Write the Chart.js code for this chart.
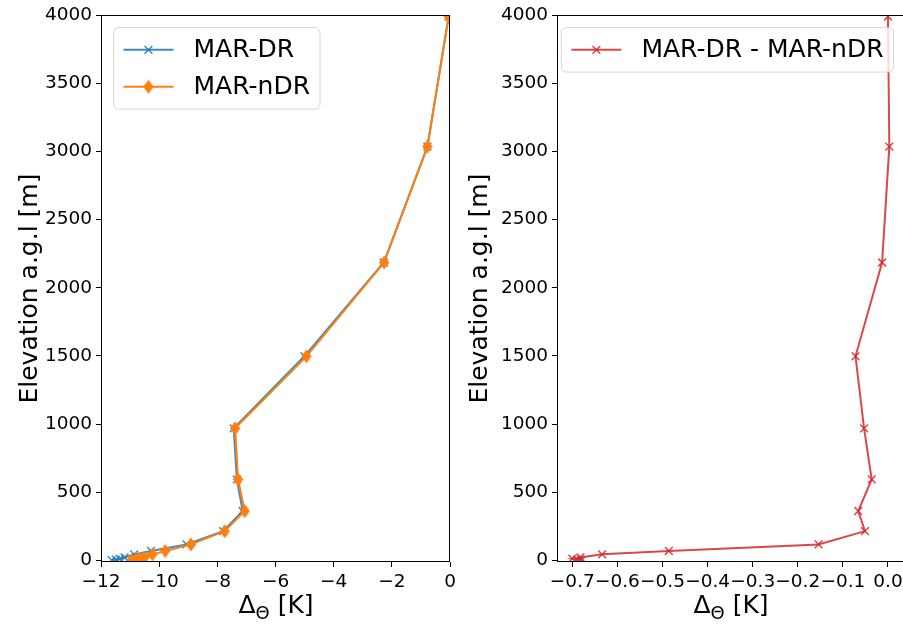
<!DOCTYPE html>
<html>
<head>
<meta charset="utf-8">
<script src="https://cdn.jsdelivr.net/npm/chart.js@4.4.1/dist/chart.umd.min.js"></script>
<style>
    html, body { margin: 0; padding: 0; background: #fff; overflow: hidden; }
    body { width: 903px; height: 625px; position: relative; }
    .box { position: absolute; top: 0; height: 625px; }
    #leftBox { left: 0; width: 460px; }
    #rightBox { left: 460px; width: 460px; }
</style>
</head>
<body>
<div class="box" id="leftBox"><canvas id="leftChart"></canvas></div>
<div class="box" id="rightBox"><canvas id="rightChart"></canvas></div>
<script>
// elevation of the model levels (m a.g.l)
const elevation = [2, 6, 12, 21, 44, 69, 117, 214, 362, 594, 968, 1497, 2185, 3035, 3990];
// potential temperature anomaly (K)
const thetaDR = [-11.63, -11.49, -11.35, -11.19, -10.86, -10.28, -9.06, -7.80, -7.13, -7.33, -7.44, -5.01, -2.28, -0.78, -0.05];
const thetaNDR = [-10.95, -10.80, -10.65, -10.51, -10.23, -9.79, -8.91, -7.75, -7.06, -7.29, -7.39, -4.94, -2.27, -0.78, -0.05];
const thetaDiff = [-0.68, -0.69, -0.70, -0.682, -0.634, -0.486, -0.154, -0.051, -0.066, -0.036, -0.053, -0.072, -0.013, 0.003, 0.0];

const labelsLeft = ['MAR-DR', 'MAR-nDR'];
const labelsRight = ['MAR-DR - MAR-nDR'];

const yTicks = [0, 500, 1000, 1500, 2000, 2500, 3000, 3500, 4000];
const xTicksLeft = [-12, -10, -8, -6, -4, -2, 0];
const xTicksRight = [-0.7, -0.6, -0.5, -0.4, -0.3, -0.2, -0.1, 0.0];

const yTitle = 'Elevation a.g.l [m]';

Chart.defaults.font.family = "'DejaVu Sans', sans-serif";
Chart.defaults.font.size = 18.5;
Chart.defaults.color = '#000';

const MINUS = '\u2212';

// thin diamond marker like matplotlib 'd'
function thinDiamond(color) {
    const c = document.createElement('canvas');
    c.width = 12; c.height = 15;
    const g = c.getContext('2d');
    g.beginPath();
    g.moveTo(6, 0.5);
    g.lineTo(11.2, 7.5);
    g.lineTo(6, 14.5);
    g.lineTo(0.8, 7.5);
    g.closePath();
    g.fillStyle = color;
    g.fill();
    return c;
}

function toPoints(xs) {
    return xs.map((v, i) => ({ x: v, y: elevation[i] }));
}

// frame, axis titles and a matplotlib style legend
const decorPlugin = {
    id: 'decor',
    afterDraw(chart, args, opts) {
        const ctx = chart.ctx;
        const a = chart.chartArea;
        ctx.save();

        // full box around the axes
        ctx.strokeStyle = '#000';
        ctx.lineWidth = 1;
        ctx.strokeRect(Math.round(a.left) + 0.5, Math.round(a.top) + 0.5,
            Math.round(a.right - a.left) - 1, Math.round(a.bottom - a.top) - 1);

        // y title
        ctx.fillStyle = '#000';
        ctx.font = "25px 'DejaVu Sans'";
        ctx.textAlign = 'center';
        ctx.textBaseline = 'middle';
        ctx.translate(a.left - opts.yTitleOffset, (a.top + a.bottom) / 2);
        ctx.rotate(-Math.PI / 2);
        ctx.fillText(yTitle, 0, 0);
        ctx.setTransform(1, 0, 0, 1, 0, 0);

        // x title with subscript
        const big = "25px 'DejaVu Sans'";
        const small = "18px 'DejaVu Sans'";
        ctx.textAlign = 'left';
        ctx.textBaseline = 'alphabetic';
        ctx.font = big;
        const w1 = ctx.measureText('\u0394').width;
        const w3 = ctx.measureText(' [K]').width;
        ctx.font = small;
        const w2 = ctx.measureText('\u0398').width;
        let x = opts.xTitleCenter - (w1 + w2 + w3) / 2;
        const base = 613;
        ctx.font = big;
        ctx.fillText('\u0394', x, base);
        x += w1;
        ctx.font = small;
        ctx.fillText('\u0398', x, base + 6);
        x += w2;
        ctx.font = big;
        ctx.fillText(' [K]', x, base);

        // legend
        ctx.font = "25px 'DejaVu Sans'";
        const names = opts.labels;
        let tw = 0;
        names.forEach(n => { tw = Math.max(tw, ctx.measureText(n).width); });
        const pad = 10, handle = 50, gap = 20, rowH = 24.5, rowGap = 12.5;
        const bw = pad + handle + gap + tw + pad;
        const bh = pad * 2 + names.length * rowH + (names.length - 1) * rowGap;
        const bx = opts.legendRight ? a.right - 12.5 - bw : a.left + 12.5;
        const by = a.top + 12.5;
        ctx.beginPath();
        ctx.roundRect(bx, by, bw, bh, 5);
        ctx.fillStyle = 'rgba(255,255,255,0.8)';
        ctx.fill();
        ctx.strokeStyle = 'rgba(204,204,204,0.8)';
        ctx.stroke();

        names.forEach((n, i) => {
            const ds = chart.data.datasets[i];
            const cy = by + pad + rowH / 2 + i * (rowH + rowGap);
            const hx = bx + pad;
            ctx.strokeStyle = ds.borderColor;
            ctx.lineWidth = 2;
            ctx.beginPath();
            ctx.moveTo(hx, cy);
            ctx.lineTo(hx + handle, cy);
            ctx.stroke();
            ctx.fillStyle = ds.borderColor;
            ctx.lineWidth = ds.pointBorderWidth || 1.5;
            Chart.helpers.drawPoint(ctx, {
                pointStyle: ds.pointStyle,
                radius: ds.pointRadius,
                borderWidth: ds.pointBorderWidth || 1.5,
                rotation: 0
            }, hx + handle / 2, cy);
            ctx.fillStyle = '#000';
            ctx.textAlign = 'left';
            ctx.textBaseline = 'middle';
            ctx.fillText(n, hx + handle + gap, cy + 1);
        });
        ctx.restore();
    }
};

function fmtInt(v) {
    return (v < 0 ? MINUS : '') + Math.abs(v);
}
function fmtDec(v) {
    const r = Math.round(v * 10) / 10;
    return (r < 0 ? MINUS : '') + Math.abs(r).toFixed(1);
}

function axes(xMin, xMax, xTicks, xFmt, yWidth) {
    const tickGrid = { display: true, drawOnChartArea: false, drawTicks: true, tickLength: 5, color: '#000', lineWidth: 1 };
    return {
        x: {
            type: 'linear',
            min: xMin,
            max: xMax,
            border: { display: false },
            grid: tickGrid,
            ticks: { padding: 4, maxRotation: 0, autoSkip: false, callback: xFmt },
            afterBuildTicks: s => { s.ticks = xTicks.map(v => ({ value: v })); },
            afterFit: s => { s.height = 63; }
        },
        y: {
            type: 'linear',
            min: -12,
            max: 4000,
            border: { display: false },
            grid: tickGrid,
            ticks: { padding: 4, autoSkip: false, callback: v => String(v) },
            afterBuildTicks: s => { s.ticks = yTicks.map(v => ({ value: v })); },
            afterFit: s => { s.width = yWidth; }
        }
    };
}

document.addEventListener('DOMContentLoaded', () => {
    new Chart(document.getElementById('leftChart'), {
        type: 'line',
        data: {
            datasets: [{
                label: labelsLeft[0],
                data: toPoints(thetaDR),
                borderColor: 'rgba(31,119,180,0.85)',
                backgroundColor: 'rgba(31,119,180,0.85)',
                borderWidth: 2,
                pointStyle: 'crossRot',
                pointRadius: 5.5,
                pointBorderWidth: 1.5,
                tension: 0,
                order: 1
            }, {
                label: labelsLeft[1],
                data: toPoints(thetaNDR),
                borderColor: '#ff7f0e',
                backgroundColor: '#ff7f0e',
                borderWidth: 2,
                pointStyle: thinDiamond('#ff7f0e'),
                pointRadius: 6,
                tension: 0,
                order: 0
            }]
        },
        options: {
            responsive: true,
            maintainAspectRatio: false,
            animation: false,
            layout: { padding: { top: 15, right: 9, left: 0, bottom: 0 } },
            scales: axes(-12, 0, xTicksLeft, fmtInt, 101),
            plugins: {
                legend: { display: false },
                tooltip: { enabled: false },
                decor: { labels: labelsLeft, legendRight: false, yTitleOffset: 71, xTitleCenter: 276 }
            }
        },
        plugins: [decorPlugin]
    });

    new Chart(document.getElementById('rightChart'), {
        type: 'line',
        data: {
            datasets: [{
                label: labelsRight[0],
                data: toPoints(thetaDiff),
                borderColor: 'rgba(214,39,40,0.85)',
                backgroundColor: 'rgba(214,39,40,0.85)',
                borderWidth: 2,
                pointStyle: 'crossRot',
                pointRadius: 5.5,
                pointBorderWidth: 1.5,
                tension: 0
            }]
        },
        options: {
            responsive: true,
            maintainAspectRatio: false,
            animation: false,
            layout: { padding: { top: 15, right: 14, left: 0, bottom: 0 } },
            scales: axes(-0.734, 0.04, xTicksRight, fmtDec, 97),
            plugins: {
                legend: { display: false },
                tooltip: { enabled: false },
                decor: { labels: labelsRight, legendRight: true, yTitleOffset: 77, xTitleCenter: 271 }
            }
        },
        plugins: [decorPlugin]
    });
});
</script>
</body>
</html>
